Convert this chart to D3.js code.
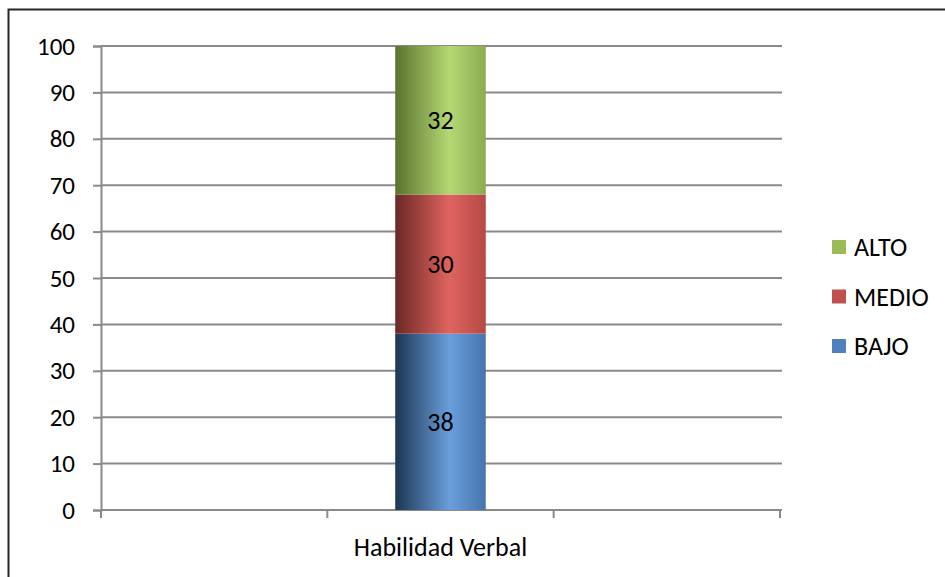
<!DOCTYPE html>
<html>
<head>
<meta charset="utf-8">
<script src="https://cdn.jsdelivr.net/npm/d3@7"></script>
<style>
  html, body { margin: 0; padding: 0; background: #fff; }
  svg text { font-family: Carlito, Lato, "Open Sans", sans-serif; fill: #000; }
</style>
</head>
<body>
<svg id="chart" width="945" height="577"></svg>
<script>
// Category slots on the x axis (only the middle one carries data)
const categories = ["", "Habilidad Verbal", " "];
const seriesNames = ["BAJO", "MEDIO", "ALTO"];
const bajo = [0, 38, 0];
const medio = [0, 30, 0];
const alto = [0, 32, 0];
const yTicks = [0, 10, 20, 30, 40, 50, 60, 70, 80, 90, 100];

const palette = {
  BAJO:  { dark: "#1d3552", light: "#6a9fdc", edge: "#4775ad", solid: "#4f81bd" },
  MEDIO: { dark: "#6a2826", light: "#e0645f", edge: "#b44946", solid: "#c0504d" },
  ALTO:  { dark: "#5a732f", light: "#b5d873", edge: "#8cab52", solid: "#9bbb59" }
};

const FS = 25;
const FS_LABEL = 26;
const svg = d3.select("#chart");

// Outer chart frame
svg.append("rect")
  .attr("x", 8.5).attr("y", 9.5)
  .attr("width", 960).attr("height", 600)
  .attr("fill", "none").attr("stroke", "#262626").attr("stroke-width", 2);

const x = d3.scaleBand().domain(categories).range([101, 780]).padding(0);
const y = d3.scaleLinear().domain([0, 100]).range([510, 46]);

// Gradients for the cylinder-like shading
const defs = svg.append("defs");
seriesNames.forEach(name => {
  const c = palette[name];
  const g = defs.append("linearGradient").attr("id", "grad-" + name)
    .attr("x1", "0%").attr("x2", "100%").attr("y1", "0%").attr("y2", "0%");
  g.append("stop").attr("offset", "0%").attr("stop-color", c.dark);
  g.append("stop").attr("offset", "60%").attr("stop-color", c.light);
  g.append("stop").attr("offset", "100%").attr("stop-color", c.edge);
});

// Horizontal gridlines
svg.append("g").selectAll("line").data(yTicks.filter(t => t > 0)).join("line")
  .attr("x1", 101).attr("x2", 782)
  .attr("y1", d => y(d)).attr("y2", d => y(d))
  .attr("stroke", "#8a8a8a").attr("stroke-width", 2);

// Y axis
const yAxis = svg.append("g").attr("transform", "translate(101,0)")
  .call(d3.axisLeft(y).tickValues(yTicks).tickSize(8).tickPadding(18));
yAxis.select(".domain").attr("stroke", "#8a8a8a").attr("stroke-width", 2);
yAxis.selectAll(".tick line").attr("stroke", "#8a8a8a").attr("stroke-width", 2);
yAxis.selectAll(".tick text").attr("font-size", FS).attr("fill", "#000")
  .attr("font-family", "Carlito, Lato, 'Open Sans', sans-serif");

// X axis with ticks at category boundaries
const xAxisG = svg.append("g").attr("transform", "translate(0,510)");
xAxisG.append("line").attr("x1", 101).attr("x2", 782).attr("y1", 0).attr("y2", 0)
  .attr("stroke", "#8a8a8a").attr("stroke-width", 2);
const boundaries = categories.map(c => x(c)).concat([x(categories[categories.length - 1]) + x.bandwidth()]);
xAxisG.selectAll("line.tk").data(boundaries).join("line").attr("class", "tk")
  .attr("x1", d => d).attr("x2", d => d).attr("y1", 0).attr("y2", 8)
  .attr("stroke", "#8a8a8a").attr("stroke-width", 2);
xAxisG.selectAll("text").data(categories.filter(c => c.trim() !== "")).join("text")
  .attr("x", d => x(d) + x.bandwidth() / 2).attr("y", 37)
  .attr("dy", "0.35em")
  .attr("text-anchor", "middle").attr("font-size", FS_LABEL).text(d => d);

// Stacked bars
const rows = categories.map((c, i) => ({ cat: c, BAJO: bajo[i], MEDIO: medio[i], ALTO: alto[i] }));
const stacked = d3.stack().keys(seriesNames)(rows);
const barW = x.bandwidth() * 0.4;

const layers = svg.append("g").selectAll("g").data(stacked).join("g")
  .attr("fill", d => "url(#grad-" + d.key + ")");
layers.selectAll("rect").data(d => d.filter(p => p[1] - p[0] > 0)).join("rect")
  .attr("x", p => x(p.data.cat) + (x.bandwidth() - barW) / 2)
  .attr("width", barW)
  .attr("y", p => y(p[1]))
  .attr("height", p => y(p[0]) - y(p[1]));

// Value labels
layers.selectAll("text").data(d => d.filter(p => p[1] - p[0] > 0).map(p => ({ p, key: d.key }))).join("text")
  .attr("x", d => x(d.p.data.cat) + x.bandwidth() / 2)
  .attr("y", d => (y(d.p[0]) + y(d.p[1])) / 2)
  .attr("dy", "0.35em").attr("text-anchor", "middle")
  .attr("font-size", FS_LABEL)
  .attr("fill", "#000")
  .text(d => d.p.data[d.key]);

// Legend (top-down: ALTO, MEDIO, BAJO)
const legendItems = seriesNames.slice().reverse();
const legend = svg.append("g").attr("transform", "translate(832,247)");
const li = legend.selectAll("g").data(legendItems).join("g")
  .attr("transform", (d, i) => `translate(0,${i * 49.5})`);
li.append("rect").attr("x", 0).attr("y", -7).attr("width", 14).attr("height", 14)
  .attr("fill", d => palette[d].solid);
li.append("text").attr("x", 22).attr("y", 0).attr("dy", "0.35em")
  .attr("font-size", FS_LABEL).text(d => d);
</script>
</body>
</html>
